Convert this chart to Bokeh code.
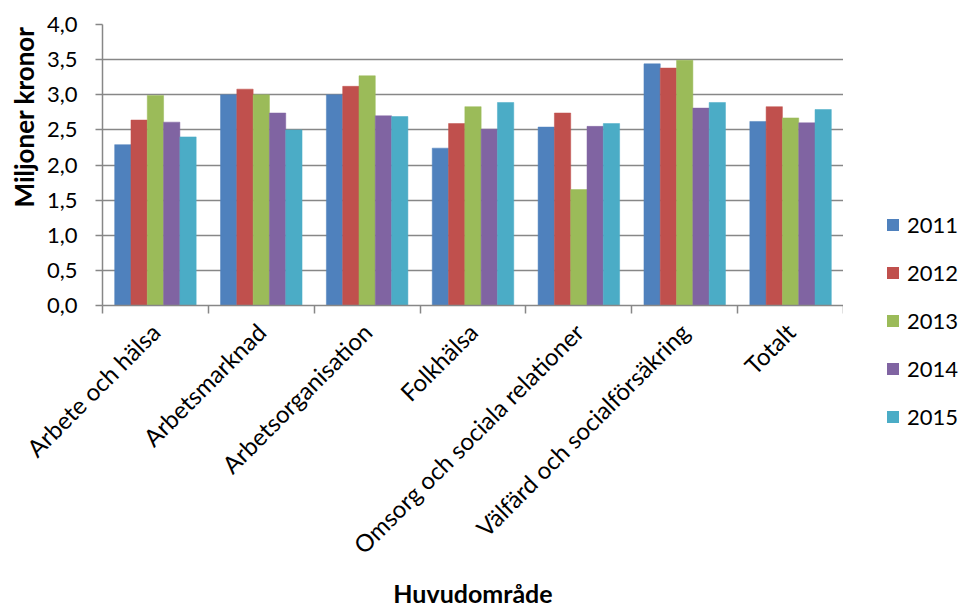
from bokeh.plotting import figure
from bokeh.layouts import row
from bokeh.models import Range1d, FixedTicker, Legend, LegendItem, ColumnDataSource, Title
from bokeh.transform import dodge
from bokeh.embed import file_html
from bokeh.resources import INLINE

categories = ["Arbete och hälsa", "Arbetsmarknad", "Arbetsorganisation", "Folkhälsa",
              "Omsorg och sociala relationer", "Välfärd och socialförsäkring", "Totalt"]
years = ["2011", "2012", "2013", "2014", "2015"]
v2011 = [2.29, 3.00, 3.00, 2.24, 2.54, 3.44, 2.62]
v2012 = [2.64, 3.08, 3.12, 2.59, 2.74, 3.38, 2.83]
v2013 = [2.99, 3.00, 3.27, 2.83, 1.65, 3.49, 2.67]
v2014 = [2.61, 2.74, 2.70, 2.51, 2.55, 2.81, 2.60]
v2015 = [2.40, 2.50, 2.69, 2.89, 2.59, 2.89, 2.79]
y_ticks = [0.0, 0.5, 1.0, 1.5, 2.0, 2.5, 3.0, 3.5, 4.0]
y_tick_labels = ["0,0", "0,5", "1,0", "1,5", "2,0", "2,5", "3,0", "3,5", "4,0"]
colors = ["#4F81BD", "#C0504D", "#9BBB59", "#8064A2", "#4BACC6"]

series = [v2011, v2012, v2013, v2014, v2015]
centers = [i + 0.5 for i in range(len(categories))]
data = {"x": centers}
for y, v in zip(years, series):
    data["y" + y] = v
src = ColumnDataSource(data)

FONT = "Lato"
GRAY = "#878787"
H = 611

p = figure(width=843, height=H, output_backend="svg", toolbar_location=None,
           x_range=Range1d(0, len(categories)), y_range=Range1d(0, 4.0),
           min_border_left=102, min_border_right=0, min_border_top=24, min_border_bottom=H - 305)
p.outline_line_color = None
p.background_fill_color = "white"
p.border_fill_color = "white"

bw = 0.154
for j, y in enumerate(years):
    p.vbar(x=dodge("x", (j - 2) * bw, range=p.x_range), top="y" + y, width=bw,
           source=src, fill_color=colors[j], line_color=colors[j], line_width=0.5)

# y axis
p.yaxis.ticker = FixedTicker(ticks=y_ticks)
p.yaxis.major_label_overrides = {t: l for t, l in zip(y_ticks, y_tick_labels)}
p.yaxis.minor_tick_line_color = None
p.yaxis.major_tick_in = 0
p.yaxis.major_tick_out = 7
p.yaxis.major_tick_line_color = GRAY
p.yaxis.major_tick_line_width = 1.5
p.yaxis.axis_line_color = GRAY
p.yaxis.axis_line_width = 1.5
p.yaxis.major_label_text_font = FONT
p.yaxis.major_label_text_font_size = "22px"
p.yaxis.major_label_text_color = "black"
p.yaxis.major_label_standoff = 18

ytitle = Title(text="Miljoner kronor", align="right", offset=2, text_font=FONT,
               text_font_size="26px", text_font_style="bold", text_color="black", standoff=8)
p.add_layout(ytitle, "left")

# x axis
p.xaxis.ticker = FixedTicker(ticks=centers, minor_ticks=list(range(len(categories) + 1)))
p.xaxis.major_label_overrides = {c: l for c, l in zip(centers, categories)}
p.xaxis.major_tick_line_color = None
p.xaxis.major_tick_in = 0
p.xaxis.major_tick_out = 0
p.xaxis.minor_tick_line_color = GRAY
p.xaxis.minor_tick_line_width = 1.5
p.xaxis.minor_tick_in = 0
p.xaxis.minor_tick_out = 8
p.xaxis.axis_line_color = GRAY
p.xaxis.axis_line_width = 1.5
p.xaxis.major_label_orientation = 0.7854
p.xaxis.major_label_text_font = FONT
p.xaxis.major_label_text_font_size = "24px"
p.xaxis.major_label_text_color = "black"
p.xaxis.major_label_standoff = 14
p.xaxis.axis_label = "Huvudområde"
p.xaxis.axis_label_text_font = FONT
p.xaxis.axis_label_text_font_style = "bold"
p.xaxis.axis_label_text_font_size = "25px"
p.xaxis.axis_label_text_color = "black"
p.xaxis.axis_label_standoff = 6

p.xgrid.grid_line_color = None
p.ygrid.grid_line_color = GRAY
p.ygrid.grid_line_width = 1.5
p.ygrid.ticker = FixedTicker(ticks=y_ticks)

# legend panel
pl = figure(width=115, height=H, output_backend="svg", toolbar_location=None,
            x_range=Range1d(0, 1), y_range=Range1d(0, 1), x_axis_type=None, y_axis_type=None,
            min_border_left=0, min_border_right=0, min_border_top=0, min_border_bottom=0)
pl.outline_line_color = None
pl.xgrid.visible = False
pl.ygrid.visible = False
for f in (p, pl):
    try:
        f.frame_align = False
    except Exception:
        pass
dummies = [pl.vbar(x=[0], top=[0], bottom=[0], width=0, fill_color=c, line_color=None)
           for c in colors]
legend = Legend(items=[LegendItem(label=y, renderers=[r]) for y, r in zip(years, dummies)],
                location=(42, H - 430), orientation="vertical",
                glyph_width=15, glyph_height=15, label_text_font=FONT,
                label_text_font_size="22px", label_text_color="black",
                spacing=21, padding=0, margin=0, border_line_color=None,
                background_fill_alpha=0, label_standoff=7, label_height=20)
pl.add_layout(legend, "center")

layout = row(p, pl, spacing=0)
open("out.html", "w").write(file_html(layout, INLINE))
